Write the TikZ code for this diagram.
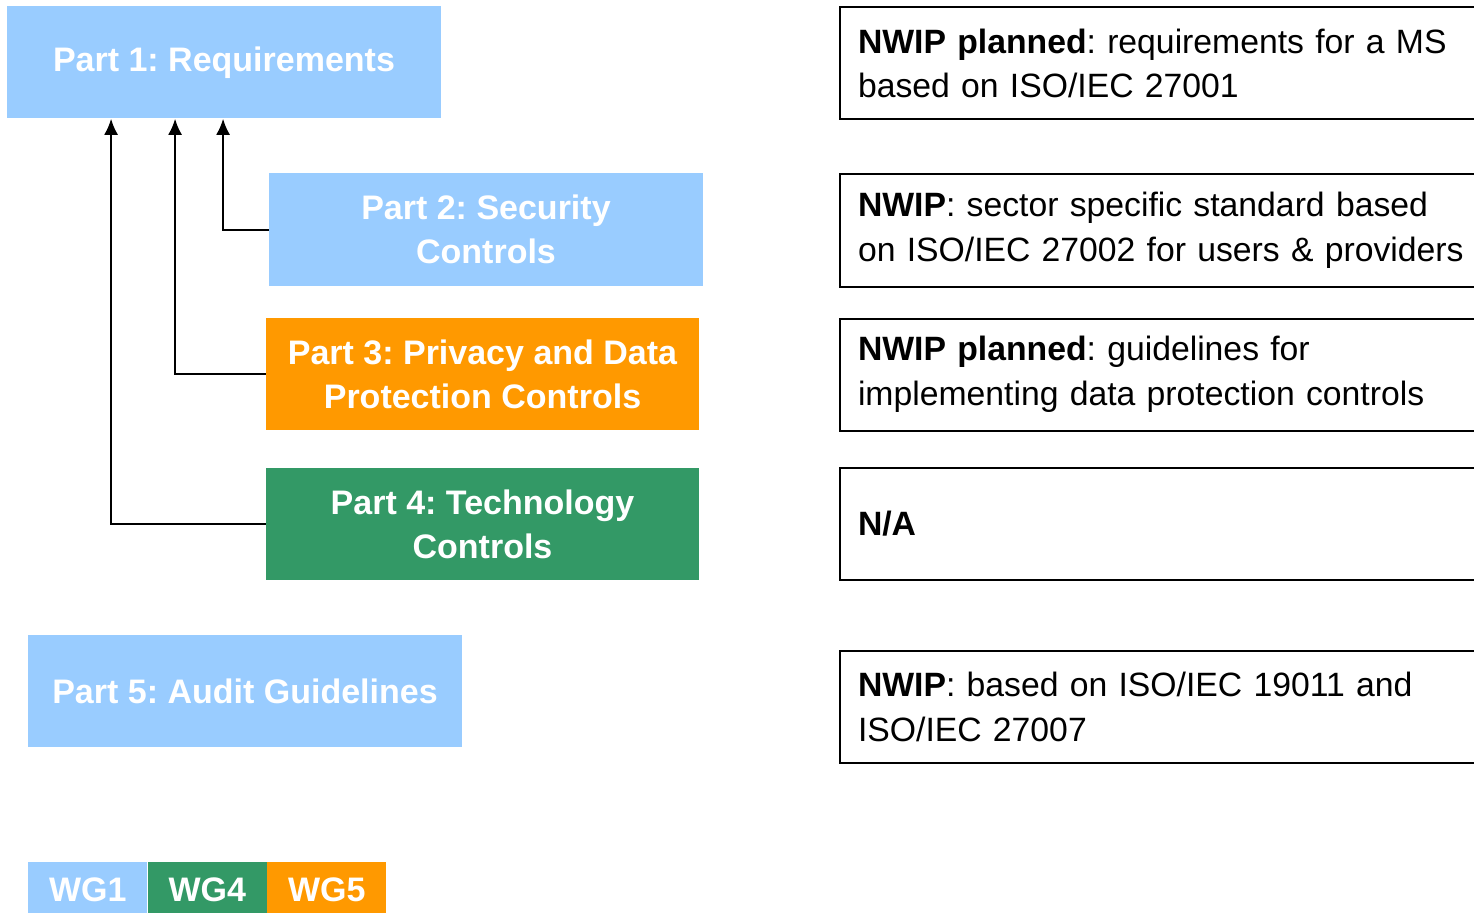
\documentclass[tikz,border=0pt]{standalone}
\usepackage{fontspec}
\setmainfont{Liberation Sans}
\usepackage{xcolor}
\usetikzlibrary{arrows.meta,calc}

\definecolor{wgblue}{HTML}{99CCFF}
\definecolor{wggreen}{HTML}{339966}
\definecolor{wgorange}{HTML}{FF9900}
\frenchspacing

\begin{document}
\begin{tikzpicture}[x=0.75pt, y=-0.75pt,
    part/.style={rectangle, inner sep=0pt, minimum width=325pt, minimum height=84pt,
        text=white, align=center, font=\fontsize{25.5pt}{33pt}\selectfont\bfseries},
    note/.style={rectangle, draw=black, line width=1.5pt, inner xsep=13.5pt, inner ysep=0pt,
        minimum height=84pt, text width=470pt, align=left,
        font=\fontsize{25.3pt}{33.5pt}\selectfont},
    wg/.style={rectangle, inner sep=0pt, minimum width=89.25pt, minimum height=42pt,
        text=white, font=\fontsize{25.5pt}{30pt}\selectfont\bfseries},
    link/.style={line width=1.5pt, -{Latex[length=12pt,width=10.5pt]}}]
    \useasboundingbox (0,0) rectangle (1474,913);
    \clip (0,0) rectangle (1474,913);

    % Parts of the standard
    \node[part, fill=wgblue] (p1) at (224,62.5) {Part 1: Requirements};
    \node[part, fill=wgblue] (p2) at (486,229.5) {Part 2: Security\\Controls};
    \node[part, fill=wgorange] (p3) at (482.5,374) {Part 3: Privacy and Data\\Protection Controls};
    \node[part, fill=wggreen] (p4) at (482.5,524) {Part 4: Technology\\Controls};
    \node[part, fill=wgblue] (p5) at (245,691) {Part 5: Audit Guidelines};

    % Dependencies on part 1
    \draw[link] (p2.west) -| ($(p1.south west)+(216,0)$);
    \draw[link] (p3.west) -| ($(p1.south west)+(168,0)$);
    \draw[link] (p4.west) -| ($(p1.south west)+(104,0)$);

    % Status notes
    \node[note, anchor=west] (n1) at (839,63.5) {\textbf{NWIP planned}: requirements for a MS\\based on ISO/IEC 27001};
    \node[note, anchor=west] (n2) at (839,230.5) {\textbf{NWIP}: sector specific standard based\\on ISO/IEC 27002 for users \& providers};
    \node[note, anchor=west] (n3) at (839,374.5) {\textbf{NWIP planned}: guidelines for\\implementing data protection controls};
    \node[note, anchor=west] (n4) at (839,524) {\textbf{N/A}};
    \node[note, anchor=west] (n5) at (839,707) {\textbf{NWIP}: based on ISO/IEC 19011 and\\ISO/IEC 27007};

    % Legend
    \node[wg, fill=wgblue, anchor=north west] (wg1) at (28,862) {WG1};
    \node[wg, fill=wggreen, anchor=north west] (wg4) at (wg1.north east) {WG4};
    \node[wg, fill=wgorange, anchor=north west] (wg5) at (wg4.north east) {WG5};
\end{tikzpicture}
\end{document}
